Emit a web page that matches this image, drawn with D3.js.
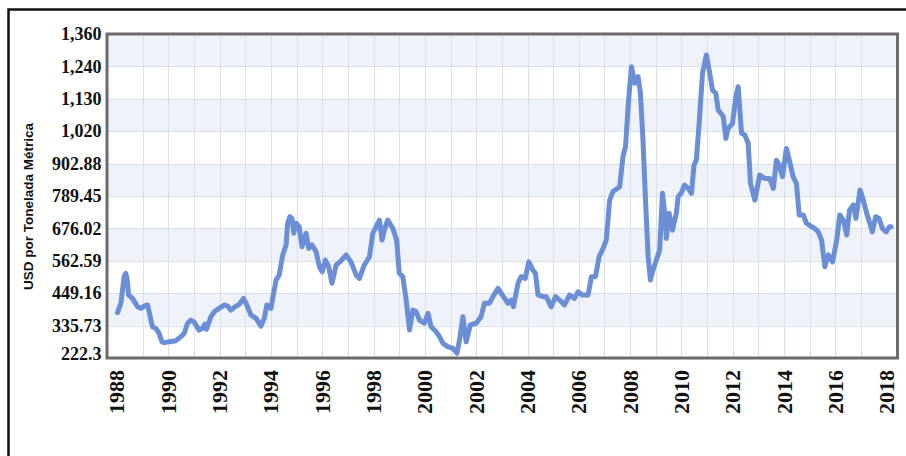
<!DOCTYPE html>
<html>
<head>
<meta charset="utf-8">
<script src="https://cdn.jsdelivr.net/npm/d3@7"></script>
<style>
  html, body { margin: 0; padding: 0; background: #ffffff; }
  svg { display: block; }
</style>
</head>
<body>
<svg id="chart" width="906" height="456"></svg>
<script>
// ---- data ----
const dates = [
  1988.02,1988.15,1988.28,1988.34,1988.40,1988.45,1988.60,1988.80,1988.93,
  1989.06,1989.19,1989.25,1989.38,1989.51,1989.64,1989.75,1989.84,
  1990.03,1990.30,1990.49,1990.62,1990.75,1990.88,
  1991.00,1991.20,1991.33,1991.43,1991.49,1991.66,1991.79,1991.98,
  1992.18,1992.31,1992.44,1992.64,1992.77,1992.93,
  1993.03,1993.22,1993.42,1993.61,1993.74,1993.84,
  1994.00,1994.09,1994.20,1994.32,1994.46,1994.59,1994.65,1994.74,1994.82,1994.89,1994.98,
  1995.10,1995.21,1995.37,1995.47,1995.60,1995.76,1995.89,
  1996.00,1996.12,1996.25,1996.38,1996.54,1996.69,1996.93,
  1997.12,1997.32,1997.45,1997.64,1997.84,1997.97,
  1998.10,1998.23,1998.33,1998.42,1998.55,1998.75,1998.90,
  1999.00,1999.14,1999.27,1999.40,1999.53,1999.66,1999.79,1999.98,
  2000.12,2000.24,2000.44,2000.57,2000.70,2000.89,
  2001.09,2001.25,2001.35,2001.48,2001.61,2001.77,
  2002.00,2002.19,2002.32,2002.52,2002.65,2002.85,
  2003.06,2003.24,2003.36,2003.45,2003.63,2003.75,2003.91,
  2004.05,2004.21,2004.31,2004.41,2004.60,2004.73,2004.92,
  2005.09,2005.25,2005.44,2005.64,2005.83,2005.97,
  2006.13,2006.36,2006.49,2006.65,2006.79,2006.97,
  2007.07,2007.20,2007.33,2007.59,2007.72,2007.82,2007.92,
  2008.05,2008.18,2008.31,2008.40,2008.50,2008.61,2008.70,2008.79,2008.89,
  2009.02,2009.15,2009.26,2009.35,2009.41,2009.52,2009.65,2009.80,2009.87,2009.99,
  2010.12,2010.26,2010.39,2010.49,2010.58,2010.69,2010.82,2010.97,
  2011.08,2011.21,2011.34,2011.43,2011.63,2011.73,2011.82,2011.99,
  2012.12,2012.21,2012.34,2012.47,2012.60,2012.69,2012.86,
  2013.05,2013.24,2013.44,2013.58,2013.70,2013.81,2013.94,
  2014.09,2014.22,2014.35,2014.48,2014.59,2014.75,2014.87,
  2015.07,2015.20,2015.33,2015.46,2015.59,2015.72,2015.89,
  2016.05,2016.17,2016.31,2016.44,2016.55,2016.70,2016.80,2016.96,
  2017.09,2017.22,2017.34,2017.44,2017.57,2017.70,2017.83,2017.98,
  2018.11,2018.17
];
const prices = [
  381,414,507,519,495,443,431,402,396,
  404,408,384,332,326,309,279,276,
  279,283,297,309,344,355,
  349,320,326,341,323,367,384,396,
  408,404,390,404,411,431,
  414,373,361,334,361,408,
  396,443,495,513,583,618,694,717,711,659,694,
  682,612,659,606,618,594,542,
  524,565,542,484,548,559,583,
  559,513,501,548,577,659,
  682,705,635,670,705,676,635,
  519,507,425,320,390,384,355,344,
  379,332,314,297,274,262,
  256,239,285,367,279,338,
  344,367,414,414,437,466,
  437,414,425,402,484,507,501,
  559,530,519,443,437,437,402,
  437,425,408,443,431,454,
  443,443,507,507,577,612,
  635,775,805,822,927,962,1102,
  1242,1184,1207,1149,985,752,577,495,530,
  565,600,799,729,641,729,670,729,787,799,
  828,816,799,898,915,1044,1219,1283,
  1230,1160,1149,1091,1067,991,1026,1044,
  1137,1172,1009,1003,974,834,775,
  863,851,851,816,915,898,857,
  956,909,857,834,723,723,694,
  682,676,664,635,542,583,559,
  635,723,705,653,740,758,711,810,
  775,729,694,664,717,711,676,664,
  682,682
];
const yTickValues = [222.3, 335.73, 449.16, 562.59, 676.02, 789.45, 902.88, 1016.31, 1129.74, 1243.17, 1356.6];
const yTickLabels = ["222.3", "335.73", "449.16", "562.59", "676.02", "789.45", "902.88", "1,020", "1,130", "1,240", "1,360"];
const xTickYears = [1988, 1990, 1992, 1994, 1996, 1998, 2000, 2002, 2004, 2006, 2008, 2010, 2012, 2014, 2016, 2018];
const gridYears = [1989,1990,1991,1992,1993,1994,1995,1996,1997,1998,1999,2000,2001,2002,2003,2004,2005,2006,2007,2008,2009,2010,2011,2012,2013,2014,2015,2016,2017];
const yTitle = "USD por Tonelada Métrica";

// ---- layout ----
const svg = d3.select("#chart");
const plot = { left: 107, top: 34, right: 897.5, bottom: 358 };

const x = d3.scaleLinear()
  .domain([1987.61, 2018.42])
  .range([plot.left, plot.right]);
const y = d3.scaleLinear()
  .domain([222.3, 1356.6])
  .range([plot.bottom, plot.top]);

// outer frame
svg.append("rect")
  .attr("x", 8.5).attr("y", 9.5)
  .attr("width", 920).attr("height", 470)
  .attr("fill", "#ffffff")
  .attr("stroke", "#111111")
  .attr("stroke-width", 2.5);

// alternating bands
const bands = [];
for (let i = 0; i < yTickValues.length - 1; i++) {
  bands.push([yTickValues[i], yTickValues[i + 1], i]);
}
svg.append("g").selectAll("rect")
  .data(bands)
  .join("rect")
  .attr("x", plot.left)
  .attr("width", plot.right - plot.left)
  .attr("y", d => y(d[1]))
  .attr("height", d => y(d[0]) - y(d[1]))
  .attr("fill", d => (d[2] % 2 === 1) ? "#f0f2fa" : "#ffffff");

// grid lines
const grid = svg.append("g").attr("stroke", "#d9dfeb").attr("stroke-width", 1);
grid.selectAll("line.v")
  .data(gridYears)
  .join("line")
  .attr("class", "v")
  .attr("x1", d => Math.round(x(d)) + 0.5)
  .attr("x2", d => Math.round(x(d)) + 0.5)
  .attr("y1", plot.top)
  .attr("y2", plot.bottom);
grid.selectAll("line.h")
  .data(yTickValues.slice(1, -1))
  .join("line")
  .attr("class", "h")
  .attr("x1", plot.left)
  .attr("x2", plot.right)
  .attr("y1", d => Math.round(y(d)) + 0.5)
  .attr("y2", d => Math.round(y(d)) + 0.5);

// data line
const defs = svg.append("defs");
defs.append("filter").attr("id", "soft")
  .append("feGaussianBlur").attr("stdDeviation", 0.6);
defs.append("clipPath").attr("id", "clip")
  .append("rect")
  .attr("x", plot.left).attr("y", plot.top - 4)
  .attr("width", plot.right - plot.left).attr("height", plot.bottom - plot.top + 4);

const series = dates.map((d, i) => [d, prices[i]]);
const line = d3.line()
  .x(d => x(d[0]))
  .y(d => y(d[1]))
  .curve(d3.curveLinear);

svg.append("path")
  .datum(series)
  .attr("clip-path", "url(#clip)")
  .attr("d", line)
  .attr("fill", "none")
  .attr("stroke", "#6a8fd6")
  .attr("stroke-width", 5)
  .attr("stroke-linejoin", "round")
  .attr("stroke-linecap", "round")
  .attr("filter", "url(#soft)");

// plot frame
svg.append("rect")
  .attr("x", plot.left).attr("y", plot.top)
  .attr("width", plot.right - plot.left)
  .attr("height", plot.bottom - plot.top)
  .attr("fill", "none")
  .attr("stroke", "#6b6b6b")
  .attr("stroke-width", 3);

// y axis labels
const yAxis = d3.axisLeft(y)
  .tickValues(yTickValues)
  .tickFormat((d, i) => yTickLabels[i])
  .tickSize(0)
  .tickPadding(5);
const yg = svg.append("g")
  .attr("transform", `translate(${plot.left - 0.5},0)`)
  .call(yAxis);
yg.select(".domain").remove();
yg.selectAll("text")
  .attr("font-family", "'Liberation Serif', 'Times New Roman', serif")
  .attr("font-weight", "bold")
  .attr("font-size", 18)
  .attr("fill", "#111111")
  .attr("dy", (d, i) => i === 0 ? "0.1em" : "0.32em");

// x axis labels (rotated)
const xg = svg.append("g");
xg.selectAll("text")
  .data(xTickYears)
  .join("text")
  .attr("transform", d => `translate(${x(d)},370) rotate(-90)`)
  .attr("text-anchor", "end")
  .attr("dy", "0.34em")
  .attr("font-family", "'Liberation Serif', 'Times New Roman', serif")
  .attr("font-weight", "bold")
  .attr("font-size", 22)
  .attr("fill", "#111111")
  .text(d => d);

// y title
svg.append("text")
  .attr("transform", "translate(33,206.5) rotate(-90)")
  .attr("text-anchor", "middle")
  .attr("font-family", "'Liberation Sans', Arial, sans-serif")
  .attr("font-weight", "bold")
  .attr("font-size", 13.5)
  .attr("fill", "#111111")
  .text(yTitle);
</script>
</body>
</html>
